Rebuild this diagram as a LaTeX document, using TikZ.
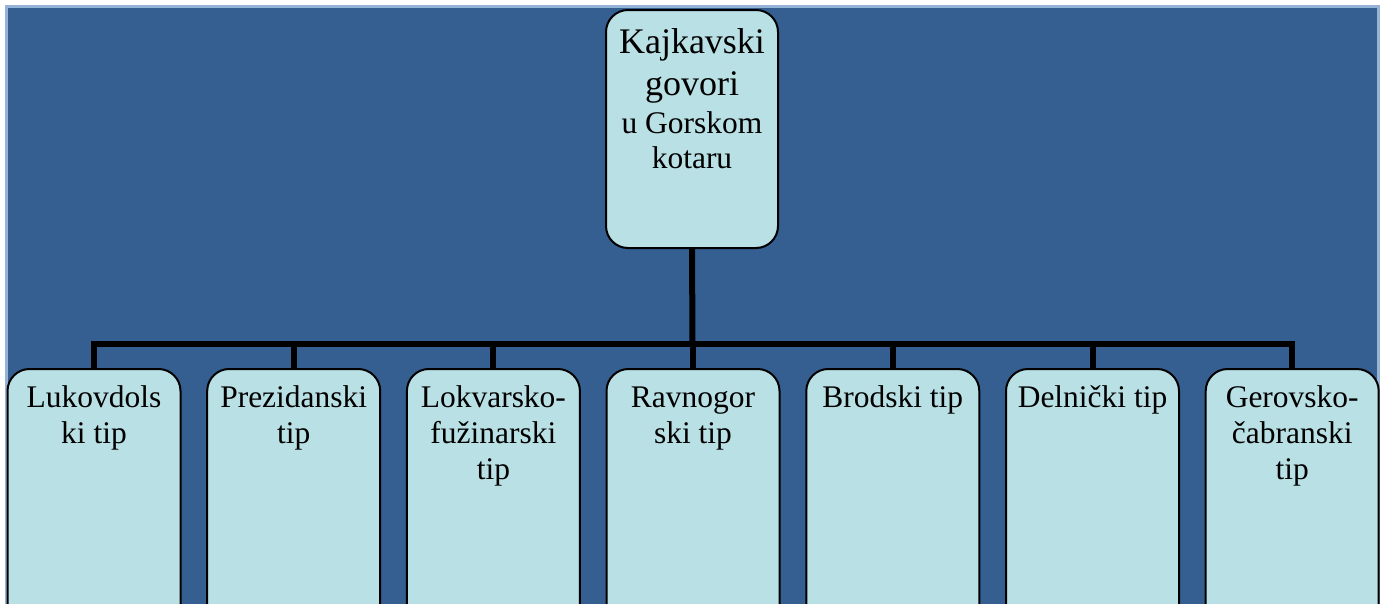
\documentclass[tikz,border=0pt]{standalone}
\usepackage{fontspec}
\setmainfont{Liberation Serif}
\definecolor{bgblue}{RGB}{54,95,145}
\definecolor{frameblue}{RGB}{149,179,215}
\definecolor{boxfill}{RGB}{185,224,228}
\tikzset{
  box/.style={draw=black, line width=1.5pt, fill=boxfill, rounded corners=16.5pt,
    anchor=north, inner sep=0pt},
  topbox/.style={box, minimum width=129pt, minimum height=178.5pt},
  leafbox/.style={box, minimum width=129.75pt, minimum height=195pt},
  conn/.style={draw=black, line width=4.5pt, line join=miter},
  leaftext/.style={anchor=north, align=center, inner sep=0pt,
    font=\fontsize{23.6pt}{27pt}\selectfont},
  bigtext/.style={anchor=north, align=center, inner sep=0pt,
    font=\fontsize{27pt}{31.5pt}\selectfont},
  midtext/.style={anchor=north, align=center, inner sep=0pt,
    font=\fontsize{23.6pt}{26.5pt}\selectfont},
}
\begin{document}
\begin{tikzpicture}[x=0.75pt, y=-0.75pt]
\useasboundingbox (0,0) rectangle (1384,603);
\begin{scope}
\clip (0,0) rectangle (1384,603);
\fill[white] (0,0) rectangle (1384,603);
\draw[fill=bgblue, draw=frameblue, line width=2.25pt] (6.5,6.5) rectangle (1378.5,620);
% top node
\node[topbox] (top) at (692,9) {};
\node[bigtext] (t1) at (692,23.6) {\strut Kajkavski\\govori};
\node[midtext] (t2) at (692,108.3) {\strut u Gorskom\\kotaru};
% leaves
\node[leafbox] (b1) at (94,368) {};
\node[leafbox] (b2) at (293.7,368) {};
\node[leafbox] (b3) at (493.4,368) {};
\node[leafbox] (b4) at (693,368) {};
\node[leafbox] (b5) at (892.8,368) {};
\node[leafbox] (b6) at (1092.5,368) {};
\node[leafbox] (b7) at (1292.2,368) {};
\node[leaftext] (l1) at (94,381.8) {\strut Lukovdols\\ki tip};
\node[leaftext] (l2) at (293.7,381.8) {\strut Prezidanski\\tip};
\node[leaftext] (l3) at (493.4,381.8) {\strut Lokvarsko-\\fužinarski\\tip};
\node[leaftext] (l4) at (693,381.8) {\strut Ravnogor\\ski tip};
\node[leaftext] (l5) at (892.8,381.8) {\strut Brodski tip};
\node[leaftext] (l6) at (1092.5,381.8) {\strut Delnički tip};
\node[leaftext] (l7) at (1292.2,381.8) {\strut Gerovsko-\\čabranski\\tip};
% connectors
\coordinate (bus) at (692.5,343.5);
\draw[conn] (top.south) -- (bus);
\draw[conn] (b1.north) |- (bus);
\draw[conn] (b2.north) |- (bus);
\draw[conn] (b3.north) |- (bus);
\draw[conn] (b4.north) |- (bus);
\draw[conn] (b5.north) |- (bus);
\draw[conn] (b6.north) |- (bus);
\draw[conn] (b7.north) |- (bus);
\end{scope}
\end{tikzpicture}
\end{document}
